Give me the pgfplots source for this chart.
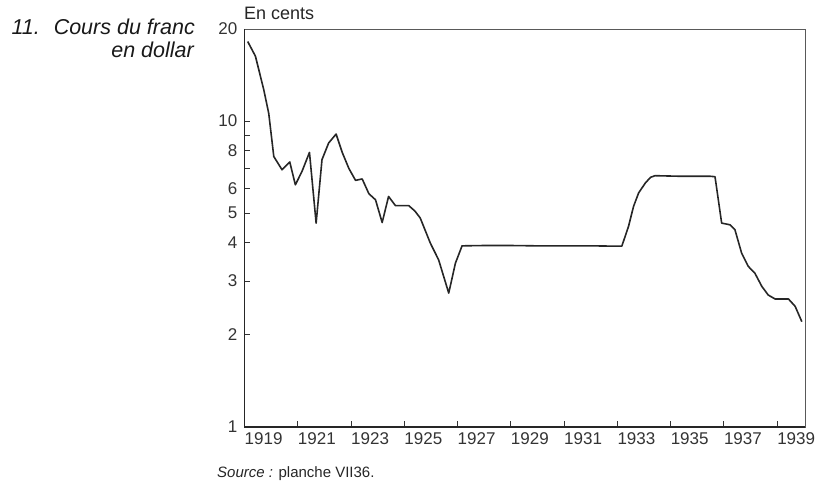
\documentclass[border=0pt]{standalone}
\usepackage{pgfplots}
\pgfplotsset{compat=1.18}
\usepackage{fontspec}
\setmainfont{Liberation Sans}
\begin{document}
\begin{tikzpicture}[x=1pt,y=1pt]
\useasboundingbox (0,0) rectangle (818,484);
\begin{axis}[
  at={(244.5pt,57pt)}, anchor=south west,
  scale only axis, width=560.5pt, height=398pt,
  xmin=1919, xmax=1940.05,
  ymode=log, ymin=1, ymax=20,
  xtick={1919,1921,...,1939},
  xticklabels={1919,1921,1923,1925,1927,1929,1931,1933,1935,1937,1939},
  ytick={1,2,3,4,5,6,8,10,20},
  yticklabels={1,2,3,4,5,6,8,10,20},
  minor ytick={7,9},
  tick pos=left, tick align=inside,
  major tick length=6pt, minor tick length=6pt,
  tick style={black!80, line width=0.9pt},
  axis line style={black!65, line width=0.8pt},
  ticklabel style={font=\fontsize{17}{19}\selectfont, text=black!80},
  xticklabel style={anchor=north west, inner sep=0pt, yshift=-5pt},
  yticklabel style={anchor=east, inner sep=0pt, xshift=-7pt},
  /pgf/number format/assume math mode=true,
  clip=false,
]
\addplot[black!85, line width=1.6pt, line join=round] coordinates {
(1919.12,18.2) (1919.41,16.3) (1919.72,12.7) (1919.91,10.6) (1920.10,7.66)
(1920.41,6.93) (1920.70,7.35) (1920.91,6.19) (1921.16,6.85) (1921.44,7.9)
(1921.69,4.64) (1921.91,7.48) (1922.16,8.48) (1922.44,9.07) (1922.67,7.9)
(1922.92,7.0) (1923.17,6.4) (1923.42,6.47) (1923.67,5.79) (1923.92,5.53)
(1924.17,4.66) (1924.41,5.67) (1924.67,5.29) (1925.17,5.29) (1925.40,5.08)
(1925.60,4.82) (1925.98,3.99) (1926.29,3.52) (1926.67,2.74) (1926.92,3.43)
(1927.17,3.91) (1928.0,3.92) (1929.0,3.92) (1930.0,3.91) (1931.0,3.91)
(1932.0,3.91) (1933.0,3.90) (1933.17,3.90) (1933.42,4.52) (1933.61,5.26)
(1933.80,5.82) (1934.05,6.27) (1934.25,6.55) (1934.42,6.63) (1935.4,6.60)
(1936.0,6.60) (1936.5,6.60) (1936.67,6.58) (1936.92,4.64) (1937.24,4.58)
(1937.42,4.41) (1937.67,3.70) (1937.92,3.35) (1938.17,3.18) (1938.43,2.88)
(1938.67,2.70) (1938.93,2.62) (1939.20,2.62) (1939.43,2.62) (1939.68,2.48)
(1939.93,2.21)
};
\draw[black!85, line width=1.4pt] (rel axis cs:0,1) -- (rel axis cs:0,0) -- (rel axis cs:1,0);
\end{axis}
\node[anchor=base east, inner sep=0pt, text=black!90, font=\fontsize{21.5}{24}\selectfont\itshape] at (195,449) {11.\hspace{0.65em}Cours du franc};
\node[anchor=base east, inner sep=0pt, text=black!90, font=\fontsize{21.5}{24}\selectfont\itshape] at (194,426) {en dollar};
\node[anchor=base west, inner sep=0pt, text=black!85, font=\fontsize{18}{20}\selectfont] at (244,464) {En cents};
\node[anchor=base west, inner sep=0pt, text=black!85, font=\fontsize{15}{17}\selectfont] at (217,7) {\textit{Source :} planche VII36.};
\end{tikzpicture}
\end{document}
